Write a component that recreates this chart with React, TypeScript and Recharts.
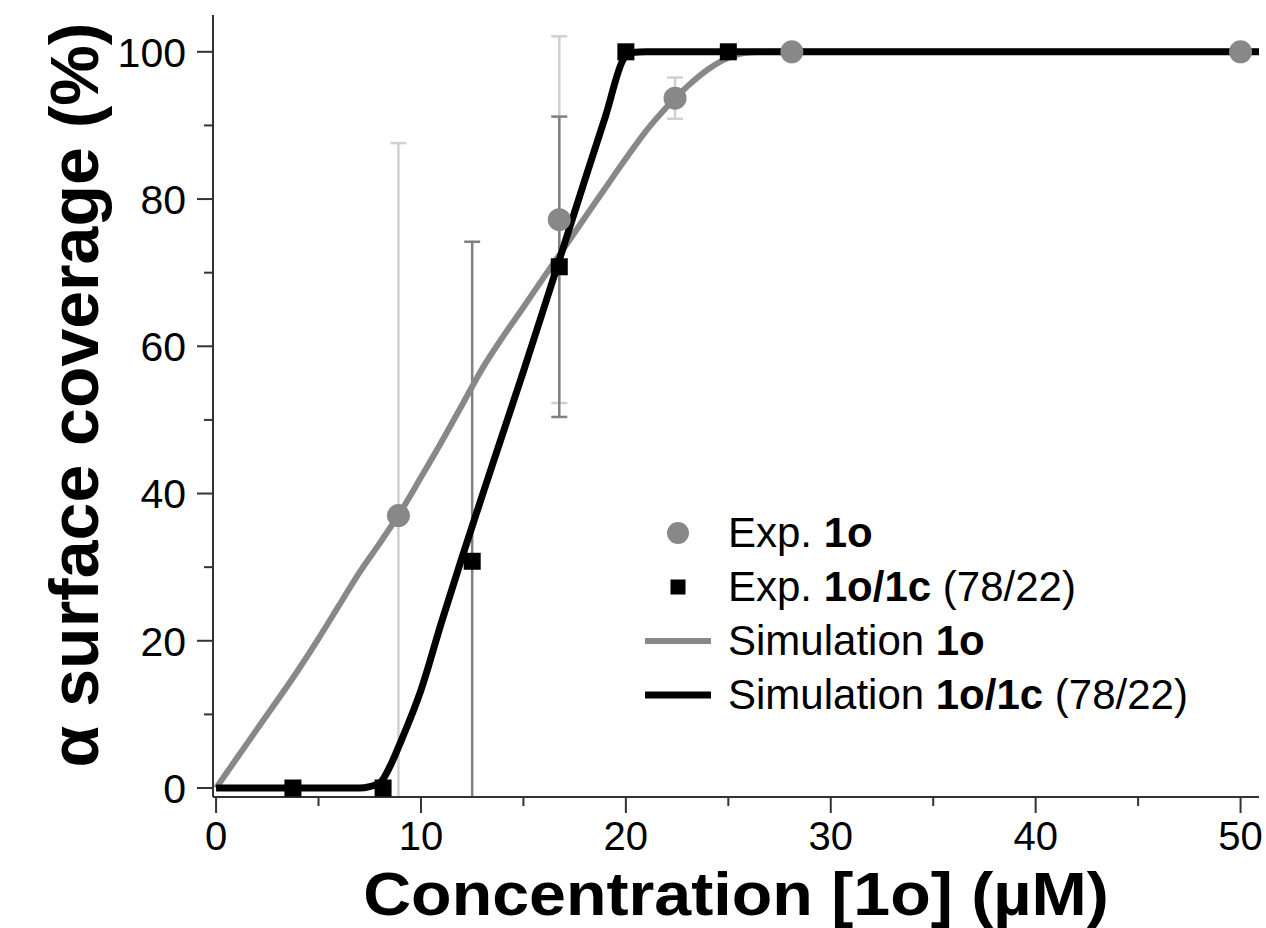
import React from 'react';
import {
  ComposedChart,
  Line,
  Scatter,
  XAxis,
  YAxis,
  ErrorBar,
  Label,
} from 'recharts';

const FONT = '"Liberation Sans", Arial, sans-serif';

// simulation curves
const simOpenConc = [0, 1, 2, 4, 5, 6, 7, 8, 9, 10, 11, 12, 13, 14, 15, 16, 17, 18, 19, 20, 21, 22, 23, 24, 25, 26, 27, 51];
const simOpenCov = [0, 4, 8, 16, 20.3, 24.8, 29.3, 33.3, 37.5, 42.2, 47, 52, 57, 61.3, 65.3, 69.4, 73.4, 77.5, 81.5, 85.5, 89.3, 92.5, 95.3, 97.6, 99.2, 99.9, 100, 100];

const simMixConc = [0, 7, 7.5, 8, 8.5, 9, 10, 11, 12, 13, 14, 15, 16, 17, 18, 19, 19.9, 20.3, 21, 51];
const simMixCov = [0, 0, 0.2, 0.7, 3, 6.2, 13.3, 22.5, 31.3, 39.8, 48.2, 56.6, 65.2, 73.9, 82.6, 91.2, 99.1, 99.9, 100, 100];

// experimental points with error bars
const expOpenConc = [8.9, 16.75, 22.4, 28.1, 50];
const expOpenCov = [37, 77.2, 93.7, 100, 100];
const expOpenErr = [50.6, 24.9, 2.8, 0, 0];

const expMixConc = [3.75, 8.15, 12.5, 16.75, 20, 25];
const expMixCov = [0, 0, 30.8, 70.8, 100, 100];
const expMixErr = [0, 0, 43.4, 20.4, 0, 0];

const xTicks = [0, 5, 10, 15, 20, 25, 30, 35, 40, 45, 50];
const yTicks = [0, 10, 20, 30, 40, 50, 60, 70, 80, 90, 100];

const simOpen = simOpenConc.map((x, i) => ({ x, y: simOpenCov[i] }));
const simMix = simMixConc.map((x, i) => ({ x, y: simMixCov[i] }));
const expOpen = expOpenConc.map((x, i) => ({ x, y: expOpenCov[i], err: expOpenErr[i] }));
const expMix = expMixConc.map((x, i) => ({ x, y: expMixCov[i], err: expMixErr[i] }));

const AXIS = '#333';
const GRAY = '#888';

// plot box (chart pixels) used to clip the error bars that run below the axis
const PLOT = { x: 213, y: 15, w: 1046, h: 782 };

const XTick = (props: any) => {
  const { x, y, payload } = props;
  const major = payload.value % 10 === 0;
  return (
    <g>
      <line x1={x} y1={y} x2={x} y2={y + (major ? 16 : 9)} stroke={AXIS} strokeWidth={2} />
      {major && (
        <text x={x} y={y + 53} textAnchor="middle" fontSize={40} fontFamily={FONT} fill="#000">
          {payload.value}
        </text>
      )}
    </g>
  );
};

const YTick = (props: any) => {
  const { x, y, payload } = props;
  const major = payload.value % 20 === 0;
  return (
    <g>
      <line x1={x} y1={y} x2={x - (major ? 16 : 9)} y2={y} stroke={AXIS} strokeWidth={2} />
      {major && (
        <text x={x - 27} y={y} dy="0.36em" textAnchor="end" fontSize={41} fontFamily={FONT} fill="#000">
          {payload.value}
        </text>
      )}
    </g>
  );
};

const circle = (p: any) => <circle cx={p.cx} cy={p.cy} r={11.5} fill={GRAY} />;
const square = (p: any) => <rect x={p.cx - 8.5} y={p.cy - 8.5} width={17} height={17} fill="#000" />;
const nothing = () => <g />;

const legendRows = [
  { kind: 'circle', pre: 'Exp. ', bold: '1o', post: '' },
  { kind: 'square', pre: 'Exp. ', bold: '1o/1c', post: ' (78/22)' },
  { kind: 'grayLine', pre: 'Simulation ', bold: '1o', post: '' },
  { kind: 'blackLine', pre: 'Simulation ', bold: '1o/1c', post: ' (78/22)' },
];

const LegendMarker = ({ kind }: { kind: string }) => (
  <svg width={70} height={54} style={{ display: 'block' }}>
    {kind === 'circle' && <circle cx={35} cy={27} r={11} fill={GRAY} />}
    {kind === 'square' && <rect x={27.5} y={19.5} width={15} height={15} fill="#000" />}
    {kind === 'grayLine' && <line x1={2} y1={27} x2={68} y2={27} stroke={GRAY} strokeWidth={6} />}
    {kind === 'blackLine' && <line x1={2} y1={27} x2={68} y2={27} stroke="#000" strokeWidth={7} />}
  </svg>
);

export default function App() {
  return (
    <div style={{ position: 'absolute', left: 0, top: 0, width: 1266, height: 928, background: '#fff', overflow: 'hidden' }}>
      <style>{`.recharts-errorBars, .recharts-errorBar { clip-path: url(#plotClip); }`}</style>
      <svg width={0} height={0} style={{ position: 'absolute' }}>
        <defs>
          <clipPath id="plotClip" clipPathUnits="userSpaceOnUse">
            <rect x={PLOT.x} y={PLOT.y} width={PLOT.w} height={PLOT.h} />
          </clipPath>
        </defs>
      </svg>
      <ComposedChart width={1266} height={928} margin={{ top: 15, right: 7, left: 0, bottom: 0 }}>
        <XAxis
          type="number"
          dataKey="x"
          domain={[-0.15, 50.9]}
          ticks={xTicks}
          interval={0}
          allowDataOverflow
          height={131}
          tickSize={0}
          tickMargin={0}
          tickLine={false}
          tick={<XTick />}
          axisLine={{ stroke: AXIS, strokeWidth: 2 }}
        >
          <Label
            content={(p: any) => {
              const vb = p.viewBox;
              const cx = vb.x + vb.width / 2;
              return (
                <text
                  x={cx}
                  y={915}
                  transform={`translate(${cx} 0) scale(1.07 1) translate(${-cx} 0)`}
                  textAnchor="middle"
                  fontSize={62}
                  fontWeight="bold"
                  fontFamily={FONT}
                  fill="#000"
                >
                  Concentration [1o] (µM)
                </text>
              );
            }}
          />
        </XAxis>
        <YAxis
          type="number"
          dataKey="y"
          domain={[-1.22, 105]}
          ticks={yTicks}
          interval={0}
          allowDataOverflow
          width={213}
          tickSize={0}
          tickMargin={0}
          tickLine={false}
          tick={<YTick />}
          axisLine={{ stroke: AXIS, strokeWidth: 2 }}
        >
          <Label
            content={() => (
              <text
                x={98}
                y={395}
                transform="rotate(-90 98 395)"
                textAnchor="middle"
                fontSize={68}
                fontWeight="bold"
                fontFamily={FONT}
                fill="#000"
              >
                α surface coverage (%)
              </text>
            )}
          />
        </YAxis>

        <Scatter data={expOpen} shape={nothing} isAnimationActive={false}>
          <ErrorBar dataKey="err" direction="y" width={8} stroke="#d0d0d0" strokeWidth={2.5} />
        </Scatter>
        <Scatter data={expMix} shape={nothing} isAnimationActive={false}>
          <ErrorBar dataKey="err" direction="y" width={8} stroke="#808080" strokeWidth={2.5} />
        </Scatter>

        <Line
          data={simOpen}
          dataKey="y"
          type="monotone"
          stroke={GRAY}
          strokeWidth={6}
          dot={false}
          activeDot={false}
          isAnimationActive={false}
        />
        <Line
          data={simMix}
          dataKey="y"
          type="monotone"
          stroke="#000"
          strokeWidth={7}
          dot={false}
          activeDot={false}
          isAnimationActive={false}
        />

        <Scatter data={expOpen} shape={circle} isAnimationActive={false} />
        <Scatter data={expMix} shape={square} isAnimationActive={false} />
      </ComposedChart>

      <div
        style={{
          position: 'absolute',
          left: 643,
          top: 506,
          fontFamily: FONT,
          fontSize: 42,
          lineHeight: '54px',
          color: '#000',
        }}
      >
        {legendRows.map((r) => (
          <div key={r.pre + r.bold + r.kind} style={{ display: 'flex', alignItems: 'center', height: 54 }}>
            <LegendMarker kind={r.kind} />
            <span style={{ marginLeft: 15, whiteSpace: 'nowrap' }}>
              {r.pre}
              <b>{r.bold}</b>
              {r.post}
            </span>
          </div>
        ))}
      </div>
    </div>
  );
}
